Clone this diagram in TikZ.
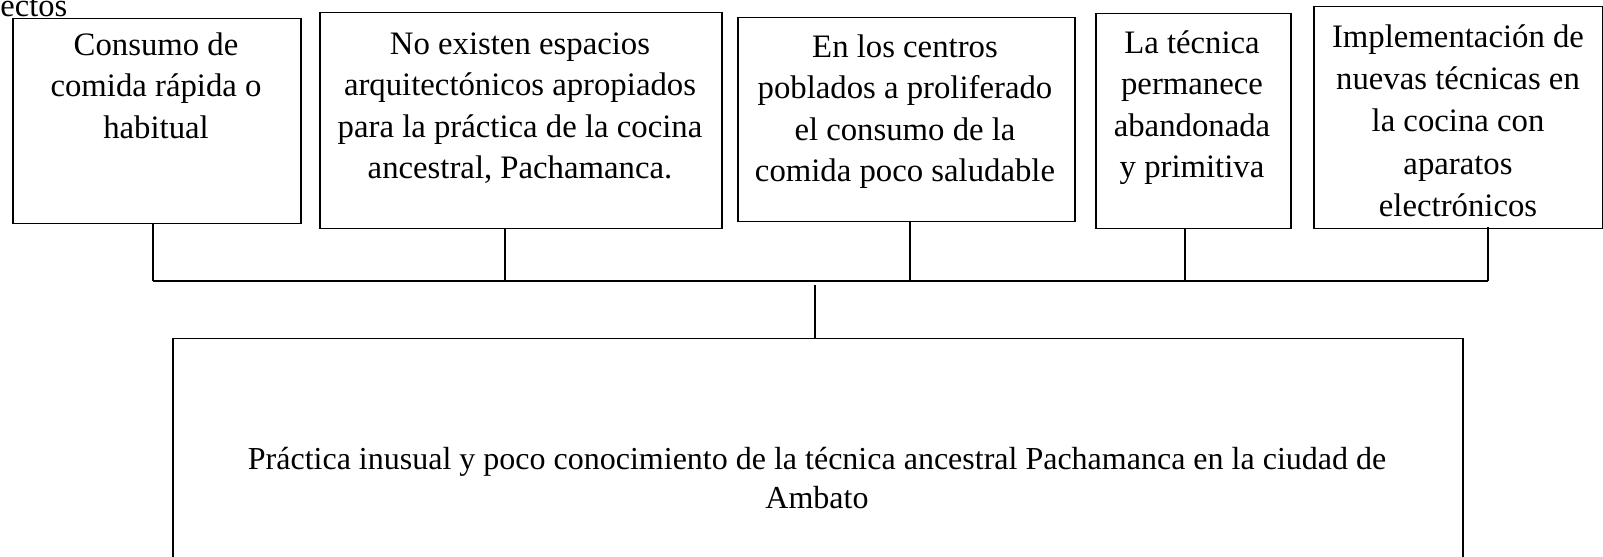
\documentclass[tikz,border=0pt]{standalone}
\usepackage{fontspec}
\setmainfont{Liberation Serif}
\begin{document}
\begin{tikzpicture}[x=0.4pt,y=-0.4pt,
  box/.style={draw=black,line width=0.6pt,anchor=north west,inner sep=0pt},
  txt/.style={align=center,font=\fontsize{13.1}{16.6}\selectfont,inner sep=0pt,anchor=north},
  conn/.style={draw=black,line width=0.6pt}]
\useasboundingbox (0,0) rectangle (1603,557);
\node[anchor=base west,inner sep=0pt,font=\fontsize{13}{15}\selectfont] (hdr) at (0,16.5) {ectos};
% boxes
\node[box,minimum width=288*0.4pt,minimum height=205*0.4pt] (b1) at (12,18) {};
\node[box,minimum width=402*0.4pt,minimum height=216*0.4pt] (b2) at (319,12) {};
\node[box,minimum width=337*0.4pt,minimum height=204*0.4pt] (b3) at (737,17) {};
\node[box,minimum width=195*0.4pt,minimum height=215*0.4pt] (b4) at (1095,13) {};
\node[box,minimum width=289*0.4pt,minimum height=222*0.4pt] (b5) at (1313,6) {};
\node[box,minimum width=1290*0.4pt,minimum height=240*0.4pt] (bb) at (172,338) {};
% texts
\node[txt] (t1) at (156,32) {Consumo de\\comida rápida o\\habitual};
\node[txt] (t2) at (520,32) {No existen espacios\\arquitectónicos apropiados\\para la práctica de la cocina\\ancestral, Pachamanca.};
\node[txt] (t3) at (905,34) {En los centros\\poblados a proliferado\\el consumo de la\\comida poco saludable};
\node[txt] (t4) at (1192,30) {La técnica\\permanece\\abandonada\\y primitiva};
\node[txt,font=\fontsize{13.1}{16.9}\selectfont] (t5) at (1458,24) {Implementación de\\nuevas técnicas en\\la cocina con\\aparatos\\electrónicos};
\node[txt,anchor=center,font=\fontsize{12.8}{15.6}\selectfont] (tb) at (817,478) {Práctica inusual y poco conocimiento de la técnica ancestral Pachamanca en la ciudad de\\Ambato};
% connectors
\coordinate (c1) at (153,281);
\coordinate (c2) at (505,281);
\coordinate (c3) at (910,281);
\coordinate (c4) at (1185,281);
\coordinate (c5) at (1488,281);
\coordinate (cm) at (815,285);
\draw[conn] (b1.south -| c1) -- (c1);
\draw[conn] (b2.south -| c2) -- (c2);
\draw[conn] (b3.south -| c3) -- (c3);
\draw[conn] (b4.south -| c4) -- (c4);
\draw[conn] ([yshift=1pt]b5.south -| c5) -- (c5);
\draw[conn] (c1) -- (c5);
\draw[conn] (cm) -- (bb.north -| cm);
\end{tikzpicture}
\end{document}
